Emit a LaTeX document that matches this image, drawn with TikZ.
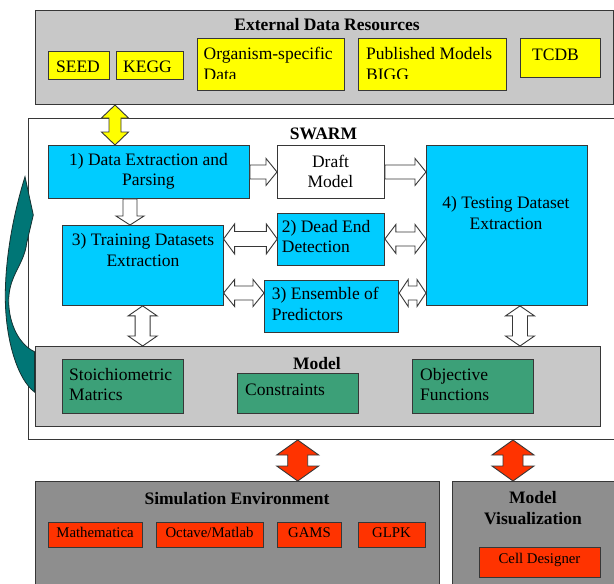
\documentclass[tikz,border=0pt]{standalone}
\usepackage{fontspec}
\setmainfont{Liberation Serif}
\usetikzlibrary{calc}

\definecolor{edgegray}{RGB}{55,55,55}
\definecolor{panelgray}{RGB}{200,200,200}
\definecolor{simgray}{RGB}{142,142,142}
\definecolor{srcyellow}{RGB}{255,255,0}
\definecolor{stepcyan}{RGB}{0,204,255}
\definecolor{modelgreen}{RGB}{60,160,120}
\definecolor{toolred}{RGB}{255,51,0}
\definecolor{loopteal}{RGB}{0,118,118}
\definecolor{loopedge}{RGB}{20,50,50}

% box given by its top-left and bottom-right corners (y grows downwards)
\newcommand\bx[6][]{\node[#1, inner sep=0pt, minimum width={(#5)-(#3)},
  minimum height={(#6)-(#4)}, anchor=north west] (#2) at (#3,#4) {};}

% block arrows: [style]{from}{to}{half shaft}{half head}{head length}
\newcommand\hsingle[6][]{\path[#1] let \p1=(#2), \p2=(#3) in
  (\x1,\y1+#4) -- (\x2-#6,\y1+#4) -- (\x2-#6,\y1+#5) -- (\x2,\y1)
  -- (\x2-#6,\y1-#5) -- (\x2-#6,\y1-#4) -- (\x1,\y1-#4) -- cycle;}
\newcommand\hdouble[6][]{\path[#1] let \p1=(#2), \p2=(#3) in
  (\x1,\y1) -- (\x1+#6,\y1+#5) -- (\x1+#6,\y1+#4) -- (\x2-#6,\y1+#4)
  -- (\x2-#6,\y1+#5) -- (\x2,\y1) -- (\x2-#6,\y1-#5) -- (\x2-#6,\y1-#4)
  -- (\x1+#6,\y1-#4) -- (\x1+#6,\y1-#5) -- cycle;}
\newcommand\vsingle[6][]{\path[#1] let \p1=(#2), \p2=(#3) in
  (\x1-#4,\y1) -- (\x1-#4,\y2+#6) -- (\x1-#5,\y2+#6) -- (\x1,\y2)
  -- (\x1+#5,\y2+#6) -- (\x1+#4,\y2+#6) -- (\x1+#4,\y1) -- cycle;}
\newcommand\vdouble[6][]{\path[#1] let \p1=(#2), \p2=(#3) in
  (\x1,\y1) -- (\x1+#5,\y1-#6) -- (\x1+#4,\y1-#6) -- (\x1+#4,\y2+#6)
  -- (\x1+#5,\y2+#6) -- (\x1,\y2) -- (\x1-#5,\y2+#6) -- (\x1-#4,\y2+#6)
  -- (\x1-#4,\y1-#6) -- (\x1-#5,\y1-#6) -- cycle;}

\begin{document}
\begin{tikzpicture}[x=1pt,y=-1pt,
  panel/.style={draw=edgegray, line width=1pt, fill=panelgray},
  darkpanel/.style={draw=edgegray, line width=1pt, fill=simgray},
  framebox/.style={draw=edgegray, line width=1pt, fill=white},
  srcbox/.style={draw=edgegray, line width=0.9pt, fill=srcyellow},
  stepbox/.style={draw=edgegray, line width=0.9pt, fill=stepcyan},
  plainbox/.style={draw=edgegray, line width=0.9pt, fill=white},
  greenbox/.style={draw=edgegray, line width=0.9pt, fill=modelgreen},
  toolbox/.style={draw=edgegray, line width=0.9pt, fill=toolred},
  txt/.style={font=\fontsize{17.5}{20.5}\selectfont, inner sep=0pt},
  ttl/.style={font=\bfseries\fontsize{17.5}{20.3}\selectfont, inner sep=0pt},
  small/.style={font=\fontsize{14.8}{17}\selectfont, inner sep=0pt},
  hollow/.style={draw=edgegray, line width=0.9pt, fill=white},
  yelarrow/.style={draw=edgegray, line width=0.9pt, fill=srcyellow},
  redarrow/.style={draw=edgegray, line width=0.9pt, fill=toolred},
  loopshape/.style={draw=loopedge, line width=0.8pt, fill=loopteal, line join=miter}]

\useasboundingbox (0,0) rectangle (614,584);
\clip (0,0) rectangle (614,584);
\fill[white] (0,0) rectangle (614,584);

% ---------- external data resources ----------
\bx[panel]{ext}{34.5}{9.5}{612.5}{104}
\node[ttl, anchor=base] (extT) at (327,30.7) {External Data Resources};
\bx[srcbox]{seed}{48}{51}{108.5}{79}
\bx[srcbox]{kegg}{115.5}{51}{182.5}{79}
\bx[srcbox]{org}{196.5}{38}{344}{90}
\bx[srcbox]{pub}{358}{38}{506}{90}
\bx[srcbox]{tcdb}{520}{38}{600}{77}
\node[txt, anchor=base] (seedT) at (78,72.7) {SEED};
\node[txt, anchor=base] (keggT) at (147.5,72.7) {KEGG};
\begin{scope}
  \clip (190,30) rectangle (510,78.5);
  \node[txt, align=left, anchor=west] (orgT) at (203.5,63.8) {Organism-specific\\Data};
  \node[txt, align=left, anchor=west] (pubT) at (366,63.8) {Published Models\\BIGG};
\end{scope}
\node[txt, anchor=base west] (tcdbT) at (532,60) {TCDB};

% ---------- SWARM frame ----------
\bx[framebox]{swarm}{27.7}{117.5}{617}{439}
\node[ttl, anchor=base] (swarmT) at (323.5,139.3) {SWARM};

% iteration loop arrow on the left
\draw[loopshape] (34.5,392) .. controls (18,380) and (5,340) .. (5.3,295)
  .. controls (5.5,255) and (14,212) .. (25,176.7) -- (33.3,215) -- (26.7,243)
  .. controls (24,265) and (9,275) .. (8.7,300)
  .. controls (8.5,325) and (20,345) .. (34.5,351.7) -- cycle;

% pipeline steps
\bx[stepbox]{extract}{48}{145}{249}{198}
\bx[plainbox]{draft}{277}{145}{384}{198}
\bx[stepbox]{testing}{426}{145}{586.7}{305}
\bx[stepbox]{training}{61.7}{225}{222.7}{305}
\bx[stepbox]{dead}{277.3}{212.5}{384}{264.5}
\bx[stepbox]{ensemble}{264}{280}{398.3}{331.7}

\node[txt, align=center] (extractT) at (148.5,171.4) {1) Data Extraction and\\Parsing};
\node[txt, align=center] (draftT) at (330.5,171.3) {Draft\\Model};
\node[txt, align=center] (testT) at (506,213) {4) Testing Dataset\\Extraction};
\node[txt, align=center] (trainT) at (143,250) {3) Training Datasets\\Extraction};
\node[txt, align=left, anchor=west] (deadT) at (281.7,236.5) {2) Dead End\\Detection};
\node[txt, align=left, anchor=west] (ensT) at (271.7,304) {3) Ensemble of\\Predictors};

% ---------- model ----------
\bx[panel]{model}{34.5}{346}{600}{426}
\node[ttl, anchor=base] (modelT) at (317,369.3) {Model};
\bx[greenbox]{stoich}{61.5}{359}{182.5}{413}
\bx[greenbox]{constraints}{237}{373}{357.5}{413}
\bx[greenbox]{objective}{412}{359}{532.5}{413}
\node[txt, align=left, anchor=west] (stoichT) at (69,384.7) {Stoichiometric\\Matrics};
\node[txt, anchor=base west] (consT) at (245,395) {Constraints};
\node[txt, align=left, anchor=west] (objT) at (420,384.7) {Objective\\Functions};

% ---------- connectors inside the frame ----------
\coordinate (yelX) at ([xshift=67pt]extract.north west);
\vdouble[yelarrow]{ext.south -| yelX}{yelX}{6pt}{13.5pt}{13pt}
\hsingle[hollow]{extract.east}{draft.west}{7pt}{13.5pt}{11pt}
\hsingle[hollow]{draft.east}{testing.west |- draft.east}{7pt}{13.5pt}{11pt}
\coordinate (dnX) at ([xshift=82pt]extract.south west);
\vsingle[hollow]{dnX}{training.north -| dnX}{7pt}{14pt}{9pt}
\hdouble[hollow]{training.east |- dead.west}{dead.west}{7.5pt}{15pt}{11pt}
\hdouble[hollow]{dead.east}{testing.west |- dead.east}{7pt}{14.5pt}{11pt}
\coordinate (ensY) at ([yshift=-13pt]ensemble.north west);
\hdouble[hollow]{training.east |- ensY}{ensY}{7pt}{13.5pt}{11pt}
\hdouble[hollow]{ensemble.east |- ensY}{testing.west |- ensY}{7pt}{13.5pt}{9pt}
\vdouble[hollow]{training.south}{model.north -| training.south}{7.5pt}{14.5pt}{10pt}
\coordinate (tmX) at ([xshift=94pt]testing.south west);
\vdouble[hollow]{tmX}{model.north -| tmX}{7.5pt}{14.5pt}{10pt}

% ---------- simulation and visualization ----------
\bx[darkpanel]{sim}{34.5}{481}{438.5}{600}
\bx[darkpanel]{vis}{452}{481}{617}{600}
\node[ttl, anchor=base] (simT) at (237,504) {Simulation Environment};
\node[ttl, align=center] (visT) at (533,508.1) {Model\\Visualization};
\bx[toolbox]{mathem}{48}{522}{142}{547}
\bx[toolbox]{octave}{156}{522}{263}{547}
\bx[toolbox]{gams}{277}{522}{341}{547}
\bx[toolbox]{glpk}{358}{522}{425}{547}
\bx[toolbox]{celld}{479}{547}{600}{577}
\node[small, anchor=base] (mathT) at (95,537.3) {Mathematica};
\node[small, anchor=base] (octT) at (209.5,537.3) {Octave/Matlab};
\node[small, anchor=base] (gamsT) at (309.5,537.3) {GAMS};
\node[small, anchor=base] (glpkT) at (391.5,537.3) {GLPK};
\node[small, anchor=base] (cellT) at (539.5,563.3) {Cell Designer};

\coordinate (r1) at (swarm.south -| constraints);
\vdouble[redarrow]{r1}{sim.north -| r1}{10pt}{21pt}{15pt}
\coordinate (r2) at ([xshift=61pt]vis.north west);
\vdouble[redarrow]{swarm.south -| r2}{r2}{10pt}{21pt}{15pt}
\end{tikzpicture}
\end{document}
